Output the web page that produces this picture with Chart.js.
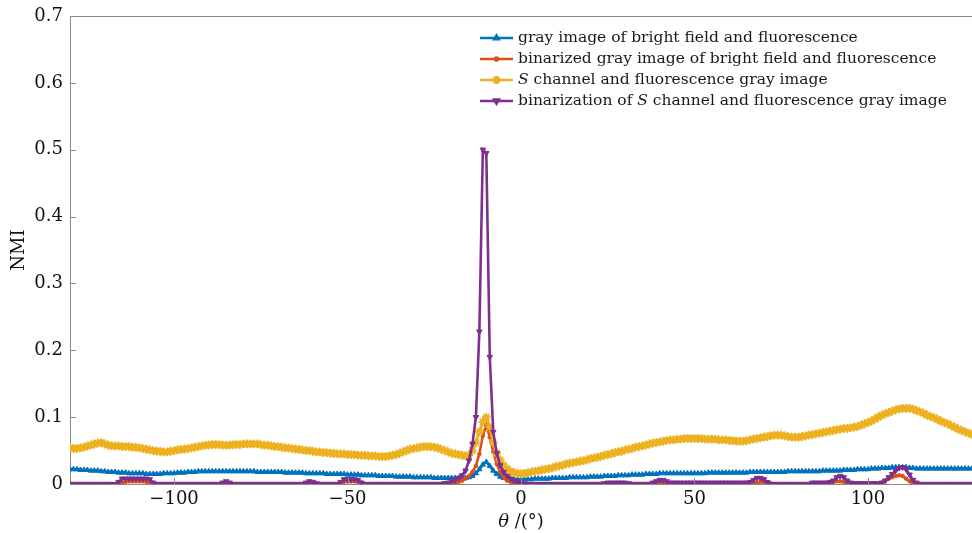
<!DOCTYPE html>
<html>
<head>
<meta charset="utf-8">
<script src="https://cdn.jsdelivr.net/npm/chart.js@4.4.1/dist/chart.umd.min.js"></script>
<style>
  html, body { margin: 0; padding: 0; background: #fff; }
  #wrap { width: 972px; height: 533px; }
</style>
</head>
<body>
<div id="wrap"><canvas id="nmiChart" width="972" height="533"></canvas></div>
<script>
// rotation angle, degrees
const angles = [
  -130,-129,-128,-127,-126,-125,-124,-123,-122,-121,
  -120,-119,-118,-117,-116,-115,-114,-113,-112,-111,
  -110,-109,-108,-107,-106,-105,-104,-103,-102,-101,
  -100,-99,-98,-97,-96,-95,-94,-93,-92,-91,
  -90,-89,-88,-87,-86,-85,-84,-83,-82,-81,
  -80,-79,-78,-77,-76,-75,-74,-73,-72,-71,
  -70,-69,-68,-67,-66,-65,-64,-63,-62,-61,
  -60,-59,-58,-57,-56,-55,-54,-53,-52,-51,
  -50,-49,-48,-47,-46,-45,-44,-43,-42,-41,
  -40,-39,-38,-37,-36,-35,-34,-33,-32,-31,
  -30,-29,-28,-27,-26,-25,-24,-23,-22,-21,
  -20,-19,-18,-17,-16,-15,-14,-13,-12,-11,
  -10,-9,-8,-7,-6,-5,-4,-3,-2,-1,
  0,1,2,3,4,5,6,7,8,9,
  10,11,12,13,14,15,16,17,18,19,
  20,21,22,23,24,25,26,27,28,29,
  30,31,32,33,34,35,36,37,38,39,
  40,41,42,43,44,45,46,47,48,49,
  50,51,52,53,54,55,56,57,58,59,
  60,61,62,63,64,65,66,67,68,69,
  70,71,72,73,74,75,76,77,78,79,
  80,81,82,83,84,85,86,87,88,89,
  90,91,92,93,94,95,96,97,98,99,
  100,101,102,103,104,105,106,107,108,109,
  110,111,112,113,114,115,116,117,118,119,
  120,121,122,123,124,125,126,127,128,129,
  130
];

// gray image of bright field and fluorescence
const grayBF = [
  0.022,0.022,0.022,0.021,0.021,0.021,0.020,0.020,0.020,0.019,
  0.019,0.018,0.018,0.018,0.017,0.017,0.017,0.016,0.016,0.016,
  0.016,0.016,0.015,0.015,0.015,0.015,0.015,0.016,0.016,0.016,
  0.016,0.017,0.017,0.017,0.018,0.018,0.018,0.019,0.019,0.019,
  0.019,0.019,0.019,0.019,0.019,0.019,0.019,0.019,0.019,0.019,
  0.019,0.019,0.019,0.019,0.018,0.018,0.018,0.018,0.018,0.018,
  0.018,0.018,0.017,0.017,0.017,0.017,0.017,0.017,0.016,0.016,
  0.016,0.016,0.016,0.016,0.015,0.015,0.015,0.015,0.015,0.015,
  0.014,0.014,0.014,0.014,0.013,0.013,0.013,0.013,0.013,0.012,
  0.012,0.012,0.012,0.012,0.011,0.011,0.011,0.011,0.011,0.010,
  0.010,0.010,0.010,0.010,0.010,0.009,0.009,0.009,0.009,0.009,
  0.009,0.009,0.009,0.009,0.009,0.010,0.012,0.016,0.022,0.029,
  0.033,0.027,0.020,0.015,0.011,0.009,0.008,0.007,0.007,0.007,
  0.007,0.007,0.007,0.007,0.008,0.008,0.008,0.008,0.008,0.009,
  0.009,0.009,0.009,0.009,0.010,0.010,0.010,0.010,0.010,0.010,
  0.011,0.011,0.011,0.011,0.012,0.012,0.012,0.012,0.013,0.013,
  0.013,0.013,0.014,0.014,0.014,0.014,0.015,0.015,0.015,0.015,
  0.016,0.016,0.016,0.016,0.016,0.016,0.016,0.016,0.016,0.016,
  0.016,0.016,0.016,0.016,0.017,0.017,0.017,0.017,0.017,0.017,
  0.017,0.017,0.017,0.017,0.017,0.017,0.018,0.018,0.018,0.018,
  0.018,0.018,0.018,0.018,0.018,0.018,0.018,0.019,0.019,0.019,
  0.019,0.019,0.019,0.019,0.019,0.019,0.019,0.020,0.020,0.020,
  0.020,0.020,0.020,0.021,0.021,0.021,0.021,0.022,0.022,0.022,
  0.022,0.023,0.023,0.023,0.024,0.024,0.024,0.025,0.025,0.025,
  0.025,0.025,0.024,0.024,0.023,0.023,0.023,0.023,0.023,0.023,
  0.023,0.023,0.023,0.023,0.023,0.023,0.023,0.023,0.023,0.023,
  0.023
];

// binarized gray image of bright field and fluorescence
const binGrayBF = [
  0,0,0,0,0,0,0,0,0,0,
  0,0,0,0,0,0.002,0.003,0.004,0.004,0.004,
  0.004,0.004,0.003,0.002,0.001,0,0,0,0,0,
  0,0,0,0,0,0,0,0,0,0,
  0,0,0,0,0,0,0,0,0,0,
  0,0,0,0,0,0,0,0,0,0,
  0,0,0,0,0,0,0,0,0,0,
  0,0,0,0,0,0,0,0,0.002,0.003,
  0.004,0.004,0.004,0.003,0.002,0,0,0,0,0,
  0,0,0,0,0,0,0,0,0,0,
  0,0,0,0,0,0,0,0,0.001,0.001,
  0.002,0.002,0.003,0.005,0.008,0.012,0.018,0.027,0.045,0.072,
  0.088,0.070,0.048,0.030,0.018,0.010,0.005,0.003,0.002,0.001,
  0.001,0,0,0,0,0,0,0,0,0,
  0,0,0,0,0,0,0,0,0,0,
  0,0,0,0,0,0,0,0,0,0,
  0,0,0,0,0,0,0,0,0,0.001,
  0.002,0.002,0.001,0,0,0,0,0,0,0,
  0,0,0,0,0,0,0,0,0,0,
  0,0,0,0,0,0,0,0.001,0.002,0.003,
  0.003,0.002,0.001,0,0,0,0,0,0,0,
  0,0,0,0,0,0,0,0,0.001,0.002,
  0.003,0.004,0.004,0.003,0.002,0.001,0,0,0,0,
  0,0,0,0,0.002,0.005,0.008,0.010,0.012,0.013,
  0.012,0.008,0.004,0.001,0,0,0,0,0,0,
  0,0,0,0,0,0,0,0,0,0,
  0
];

// S channel and fluorescence gray image
const sChannel = [
  0.054,0.053,0.053,0.054,0.055,0.057,0.058,0.060,0.061,0.062,
  0.060,0.058,0.057,0.057,0.057,0.056,0.056,0.056,0.055,0.055,
  0.054,0.053,0.052,0.051,0.050,0.049,0.049,0.048,0.048,0.049,
  0.050,0.051,0.052,0.052,0.053,0.054,0.055,0.056,0.057,0.058,
  0.058,0.059,0.059,0.059,0.058,0.058,0.058,0.059,0.059,0.059,
  0.060,0.060,0.060,0.060,0.060,0.059,0.058,0.058,0.057,0.056,
  0.056,0.055,0.054,0.054,0.053,0.052,0.052,0.051,0.050,0.050,
  0.049,0.048,0.048,0.047,0.047,0.046,0.046,0.045,0.045,0.045,
  0.044,0.044,0.044,0.043,0.043,0.043,0.042,0.042,0.042,0.041,
  0.041,0.041,0.042,0.043,0.044,0.046,0.048,0.050,0.052,0.053,
  0.054,0.055,0.056,0.056,0.056,0.055,0.054,0.052,0.050,0.048,
  0.046,0.045,0.044,0.043,0.042,0.043,0.050,0.062,0.078,0.093,
  0.100,0.085,0.062,0.046,0.036,0.028,0.023,0.019,0.017,0.016,
  0.015,0.016,0.017,0.018,0.019,0.020,0.021,0.022,0.023,0.024,
  0.026,0.027,0.028,0.030,0.031,0.032,0.033,0.034,0.035,0.036,
  0.038,0.039,0.040,0.041,0.043,0.044,0.045,0.047,0.048,0.049,
  0.051,0.052,0.053,0.055,0.056,0.057,0.058,0.060,0.061,0.062,
  0.063,0.064,0.065,0.066,0.066,0.067,0.067,0.068,0.068,0.068,
  0.068,0.068,0.068,0.067,0.067,0.067,0.067,0.066,0.066,0.066,
  0.065,0.065,0.064,0.064,0.064,0.065,0.066,0.067,0.068,0.069,
  0.070,0.071,0.072,0.073,0.073,0.073,0.072,0.071,0.070,0.070,
  0.070,0.071,0.072,0.073,0.074,0.075,0.076,0.077,0.078,0.079,
  0.080,0.081,0.082,0.083,0.083,0.084,0.085,0.086,0.088,0.090,
  0.092,0.094,0.097,0.100,0.103,0.105,0.107,0.109,0.111,0.112,
  0.113,0.113,0.113,0.112,0.110,0.108,0.106,0.103,0.101,0.099,
  0.097,0.094,0.092,0.090,0.087,0.085,0.082,0.080,0.078,0.076,
  0.074
];

// binarization of S channel and fluorescence gray image
const binSChannel = [
  0,0,0,0,0,0,0,0,0,0,
  0,0,0,0,0.003,0.008,0.008,0.008,0.008,0.008,
  0.008,0.008,0.008,0.007,0.002,0,0,0,0,0,
  0,0,0,0,0,0,0,0,0,0,
  0,0,0,0,0.002,0.004,0.002,0,0,0,
  0,0,0,0,0,0,0,0,0,0,
  0,0,0,0,0,0,0,0,0.002,0.004,
  0.003,0.001,0,0,0,0,0,0,0.003,0.007,
  0.007,0.007,0.007,0.006,0.002,0,0,0,0,0,
  0,0,0,0,0,0,0,0,0,0,
  0,0,0,0,0,0,0,0,0.001,0.002,
  0.004,0.006,0.009,0.013,0.020,0.035,0.060,0.100,0.228,0.500,
  0.495,0.190,0.078,0.046,0.028,0.018,0.012,0.008,0.005,0.003,
  0.002,0.001,0,0,0,0,0,0,0,0,
  0,0,0,0,0,0,0,0,0,0,
  0,0,0,0,0.001,0.002,0.002,0.002,0.002,0.002,
  0.002,0.001,0,0,0,0,0,0,0.002,0.004,
  0.006,0.006,0.004,0.002,0.002,0.002,0.002,0.002,0.002,0.002,
  0.002,0.002,0.002,0.002,0.002,0.002,0.002,0.002,0.002,0.002,
  0.002,0.002,0.002,0.002,0.002,0.002,0.003,0.006,0.009,0.009,
  0.007,0.003,0,0,0,0,0,0,0,0,
  0,0,0,0,0.002,0.002,0.002,0.002,0.002,0.003,
  0.005,0.010,0.012,0.010,0.005,0.002,0.001,0.001,0.001,0.001,
  0.001,0.001,0.001,0.001,0.002,0.005,0.010,0.015,0.020,0.024,
  0.025,0.022,0.014,0.006,0.002,0,0,0,0,0,
  0,0,0,0,0,0,0,0,0,0,
  0
];

const xTicks = [-100, -50, 0, 50, 100];
const yTicks = [0, 0.1, 0.2, 0.3, 0.4, 0.5, 0.6, 0.7];

const serif = '"DejaVu Serif", "Liberation Serif", serif';
const axisColor = '#8a8a8a';

const series = [
  { label: 'gray image of bright field and fluorescence', values: grayBF, color: '#0072BD', style: 'triangle', radius: 3, rotation: 0, order: 4 },
  { label: 'binarized gray image of bright field and fluorescence', values: binGrayBF, color: '#D95319', style: 'circle', radius: 1.8, rotation: 0, order: 3 },
  { label: 'S channel and fluorescence gray image', values: sChannel, color: '#EDB120', style: 'star', radius: 4.4, rotation: 0, order: 2 },
  { label: 'binarization of S channel and fluorescence gray image', values: binSChannel, color: '#7E2F8E', style: 'triangle', radius: 3.2, rotation: 180, order: 1 }
];

// legend text, split so that S can be set in italics
const legendText = [
  [['gray image of bright field and fluorescence', false]],
  [['binarized gray image of bright field and fluorescence', false]],
  [['S', true], [' channel and fluorescence gray image', false]],
  [['binarization of ', false], ['S', true], [' channel and fluorescence gray image', false]]
];

const datasets = series.map(s => ({
  label: s.label,
  data: angles.map((a, i) => ({ x: a, y: s.values[i] })),
  borderColor: s.color,
  backgroundColor: s.color,
  borderWidth: 2.6,
  pointStyle: s.style,
  pointRadius: s.radius,
  pointRotation: s.rotation,
  pointBorderWidth: s.style === 'star' ? 1.8 : 1,
  pointBackgroundColor: s.color,
  pointBorderColor: s.color,
  tension: 0,
  order: s.order
}));

// frame line on top, inward tick marks, x title with italic theta, legend
const decorations = {
  id: 'decorations',
  afterDraw(chart) {
    const { ctx, chartArea: a, scales } = chart;
    ctx.save();
    ctx.strokeStyle = axisColor;
    ctx.lineWidth = 1;
    ctx.beginPath();
    ctx.moveTo(a.left, a.top + 0.5);
    ctx.lineTo(a.right, a.top + 0.5);
    scales.x.ticks.forEach(t => {
      const px = Math.round(scales.x.getPixelForValue(t.value)) + 0.5;
      ctx.moveTo(px, a.bottom);
      ctx.lineTo(px, a.bottom - 6);
    });
    scales.y.ticks.forEach(t => {
      const py = Math.round(scales.y.getPixelForValue(t.value)) + 0.5;
      ctx.moveTo(a.left, py);
      ctx.lineTo(a.left + 6, py);
    });
    ctx.stroke();

    // x axis title
    ctx.fillStyle = '#111';
    ctx.textBaseline = 'middle';
    const titleParts = [['θ', true], [' /(°)', false]];
    let w = 0;
    titleParts.forEach(p => {
      ctx.font = (p[1] ? 'italic ' : '') + '18px ' + serif;
      w += ctx.measureText(p[0]).width;
    });
    let tx = (a.left + a.right) / 2 - w / 2;
    titleParts.forEach(p => {
      ctx.font = (p[1] ? 'italic ' : '') + '18px ' + serif;
      ctx.fillText(p[0], tx, 522);
      tx += ctx.measureText(p[0]).width;
    });

    // legend
    const lx = 480, rowY = [38, 59, 80, 101];
    series.forEach((s, i) => {
      const y = rowY[i];
      ctx.strokeStyle = s.color;
      ctx.fillStyle = s.color;
      ctx.lineWidth = 2.4;
      ctx.beginPath();
      ctx.moveTo(lx, y);
      ctx.lineTo(lx + 33, y);
      ctx.stroke();
      Chart.helpers.drawPoint(ctx, {
        pointStyle: s.style, radius: s.radius * 0.9, rotation: s.rotation,
        borderWidth: s.style === 'star' ? 1.4 : 1
      }, lx + 16.5, y);
      let x = lx + 38;
      ctx.fillStyle = '#1a1a1a';
      legendText[i].forEach(p => {
        ctx.font = (p[1] ? 'italic ' : '') + '15.5px ' + serif;
        ctx.fillText(p[0], x, y);
        x += ctx.measureText(p[0]).width;
      });
    });
    ctx.restore();
  }
};

new Chart(document.getElementById('nmiChart'), {
  type: 'line',
  data: { datasets: datasets },
  options: {
    responsive: false,
    devicePixelRatio: 1,
    animation: false,
    layout: { autoPadding: false, padding: { top: 16, right: 0, left: 0, bottom: 0 } },
    plugins: {
      legend: { display: false },
      tooltip: { enabled: false }
    },
    scales: {
      x: {
        type: 'linear',
        min: -130,
        max: 130,
        afterBuildTicks: scale => { scale.ticks = xTicks.map(v => ({ value: v })); },
        afterFit: scale => {
          scale.height = 49;
          scale.paddingLeft = 0;
          scale.paddingRight = 0;
        },
        ticks: {
          font: { family: serif, size: 18 },
          color: '#111',
          padding: 5,
          maxRotation: 0,
          callback: v => (v < 0 ? '\u2212' + Math.abs(v) : String(v))
        },
        grid: { display: true, drawOnChartArea: false, drawTicks: false },
        border: { color: axisColor, width: 1 }
      },
      y: {
        min: 0,
        max: 0.7,
        afterBuildTicks: scale => { scale.ticks = yTicks.map(v => ({ value: v })); },
        afterFit: scale => {
          scale.width = 70;
          scale.paddingTop = 0;
          scale.paddingBottom = 0;
        },
        ticks: {
          font: { family: serif, size: 18 },
          color: '#111',
          padding: 7,
          callback: v => (v === 0 ? '0' : v.toFixed(1))
        },
        title: {
          display: true,
          text: 'NMI',
          font: { family: serif, size: 18 },
          color: '#111',
          padding: { top: 9, bottom: 0 }
        },
        grid: { display: true, drawOnChartArea: false, drawTicks: false },
        border: { color: axisColor, width: 1 }
      }
    }
  },
  plugins: [decorations]
});
</script>
</body>
</html>
